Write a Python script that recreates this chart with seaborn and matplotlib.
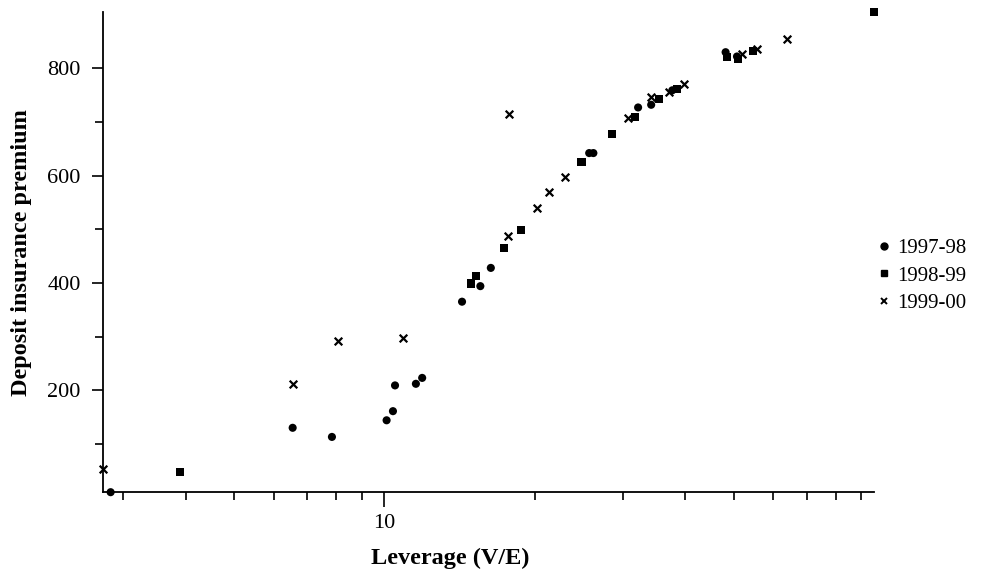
import matplotlib
matplotlib.use("Agg")
import matplotlib.pyplot as plt
import matplotlib.ticker as mticker
from matplotlib.lines import Line2D
import seaborn as sns
import pandas as pd

# values
lev_9798 = [2.83, 6.55, 7.85, 10.1, 10.4, 10.5, 11.56, 11.9, 14.3, 15.56, 16.33,
            25.7, 26.2, 32.2, 34.2, 37.7, 48.2, 50.8]
prem_9798 = [10, 130, 113, 144, 161, 209, 212, 223, 365, 394, 428,
             642, 642, 727, 732, 759, 830, 822]

lev_9899 = [3.89, 14.93, 15.27, 17.36, 18.73, 24.8, 28.6, 31.8, 35.5, 38.5,
            48.6, 51.0, 54.7, 95.5]
prem_9899 = [47, 399, 413, 465, 498, 626, 677, 709, 742, 762,
             821, 818, 832, 905]

lev_9900 = [2.73, 6.55, 8.06, 10.9, 17.7, 17.77, 20.2, 21.4, 23.0, 30.8,
            34.2, 37.2, 39.8, 52.0, 55.8, 63.9]
prem_9900 = [54, 211, 292, 297, 487, 715, 540, 570, 597, 707,
             747, 756, 770, 826, 836, 854]

years = ["1997-98", "1998-99", "1999-00"]

df_filled = pd.concat([
    pd.DataFrame({"lev": lev_9798, "prem": prem_9798, "year": years[0]}),
    pd.DataFrame({"lev": lev_9899, "prem": prem_9899, "year": years[1]}),
])
df_cross = pd.DataFrame({"lev": lev_9900, "prem": prem_9900, "year": years[2]})

sns.set_style("ticks")
plt.rcParams["font.family"] = ["Liberation Serif", "DejaVu Serif"]
plt.rcParams["text.color"] = "black"
plt.rcParams["axes.labelcolor"] = "black"
plt.rcParams["xtick.color"] = "black"
plt.rcParams["ytick.color"] = "black"

fig = plt.figure(figsize=(10.08, 5.69), dpi=100)
ax = fig.add_axes([0.102, 0.135, 0.765, 0.844])

sns.scatterplot(data=df_filled, x="lev", y="prem", style="year", hue="year",
                palette=["black", "black"], markers={"1997-98": "o", "1998-99": "s"},
                s=34, linewidth=0, clip_on=False, ax=ax, legend=False)
sns.scatterplot(data=df_cross, x="lev", y="prem", color="black", marker="x",
                s=30, linewidth=1.6, clip_on=False, ax=ax, legend=False)

ax.set_xscale("log")
ax.set_xlim(2.73, 95.5)
ax.set_ylim(10, 905)

ax.xaxis.set_major_locator(mticker.FixedLocator([10]))
ax.xaxis.set_major_formatter(mticker.FixedFormatter(["10"]))
ax.xaxis.set_minor_locator(mticker.FixedLocator([3, 4, 5, 6, 7, 8, 9, 20, 30, 40, 50, 60, 70, 80, 90]))
ax.xaxis.set_minor_formatter(mticker.NullFormatter())
ax.yaxis.set_major_locator(mticker.FixedLocator([200, 400, 600, 800]))
ax.yaxis.set_minor_locator(mticker.FixedLocator([100, 300, 500, 700]))

ax.tick_params(axis="both", which="major", labelsize=16, width=1.2, colors="black")
ax.tick_params(axis="x", which="major", length=11, pad=5)
ax.tick_params(axis="x", which="minor", length=6, width=1.2, color="black")
ax.tick_params(axis="y", which="major", length=8, pad=8)
ax.tick_params(axis="y", which="minor", length=6, width=1.2, color="black")

sns.despine(ax=ax)
for sp in ["left", "bottom"]:
    ax.spines[sp].set_linewidth(1.3)
    ax.spines[sp].set_color("black")

ax.set_xlabel("Leverage (V/E)", fontsize=17.5, fontweight="bold")
ax.set_ylabel("Deposit insurance premium", fontsize=17.5, fontweight="bold")
ax.xaxis.set_label_coords(0.45, -0.115)
ax.yaxis.set_label_coords(-0.092, 0.5)

# legend
handles = [
    Line2D([], [], marker="o", color="black", linestyle="none", markersize=5),
    Line2D([], [], marker="s", color="black", linestyle="none", markersize=5),
    Line2D([], [], marker="x", color="black", linestyle="none", markersize=5, markeredgewidth=1.4),
]
fig.legend(handles, years, loc="center left", bbox_to_anchor=(0.864, 0.515),
           frameon=False, fontsize=15, handlelength=0.5, handletextpad=0.35,
           labelspacing=0.38, borderaxespad=0)

fig.savefig("out.png", dpi=100)
